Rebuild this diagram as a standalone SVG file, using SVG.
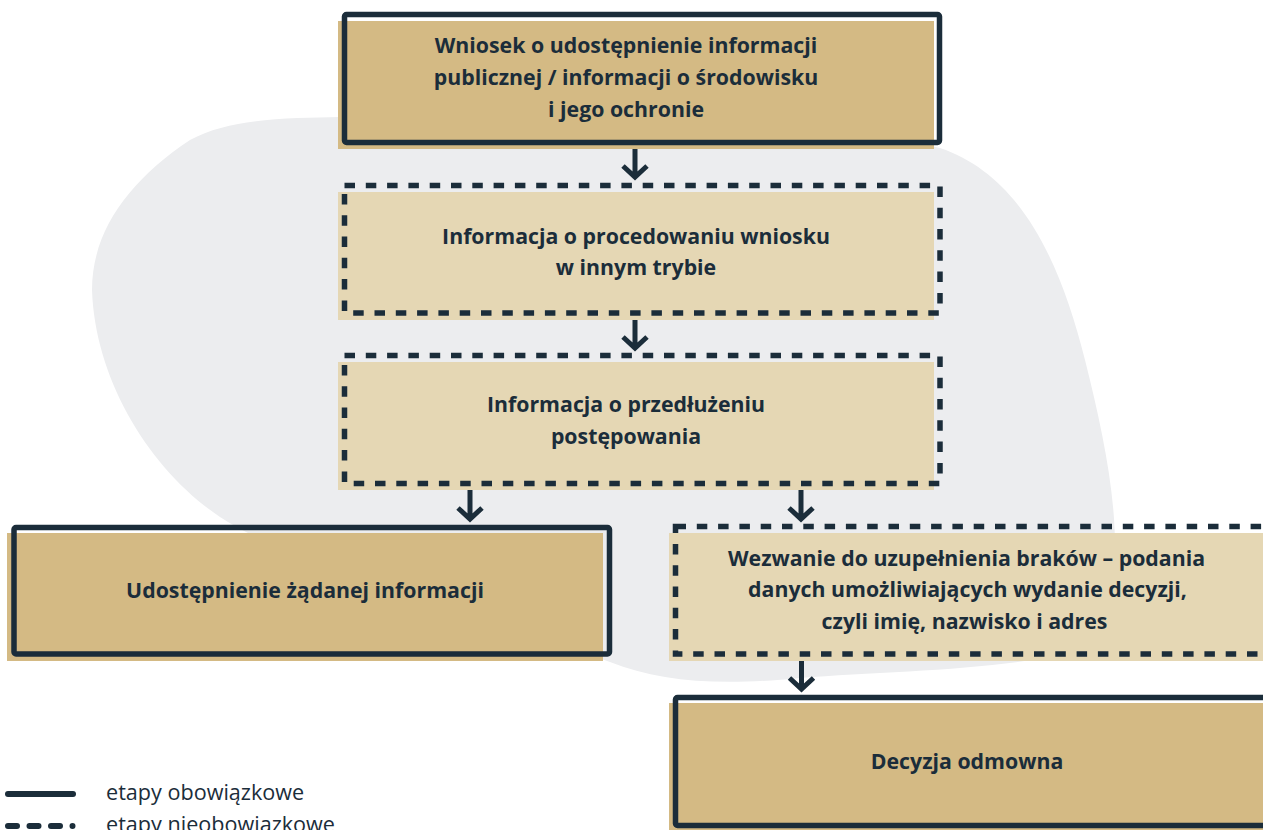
<svg xmlns="http://www.w3.org/2000/svg" width="1263" height="830" viewBox="0 0 1263 830">
<style>
.blob{fill:#ECEDEF}
.gold{fill:#D4BA84}
.beige{fill:#E5D7B4}
.solid{fill:none;stroke:#1B2D3A;stroke-width:5.5;stroke-linejoin:round}
.dash{fill:none;stroke:#1B2D3A;stroke-width:5.5;stroke-dasharray:10.5 10.8}
.lbl{font-family:'Open Sans','Liberation Sans',sans-serif;font-weight:700;font-size:21.3px;fill:#1B2D3A;text-anchor:middle}
.leg{font-family:'Open Sans','Liberation Sans',sans-serif;font-size:21.6px;fill:#1B2D3A}
.conn{fill:none;stroke:#1B2D3A;stroke-width:5;stroke-linejoin:miter}
</style>
<path class="blob" d="M 340 117 C 560 108, 820 118, 940 148 C 1020 175, 1060 260, 1085 360 C 1110 460, 1130 560, 1100 640 C 1050 670, 900 670, 800 678 C 720 686, 660 682, 610 662 C 500 620, 300 570, 220 517 C 150 470, 95 380, 92 290 C 92 230, 130 180, 190 140 C 230 118, 290 118, 340 117 Z"/>
<g id="connectors">
<path class="conn" d="M635 143 V177 M623 166 L635 177 L647 166"/>
<path class="conn" d="M635 313 V348 M623 337 L635 348 L647 337"/>
<path class="conn" d="M470 484 V519 M458 508 L470 519 L482 508"/>
<path class="conn" d="M801 484 V519 M789 508 L801 519 L813 508"/>
<path class="conn" d="M801.5 655 V689 M789.5 678 L801.5 689 L813.5 678"/>
</g>
<g id="node-wniosek">
<rect class="gold" x="338" y="21" width="596" height="128"/>
<rect class="solid" x="344.5" y="14.5" width="595" height="128" rx="2"/>
<text class="lbl" x="626" y="53">Wniosek o udostępnienie informacji</text>
<text class="lbl" x="626" y="85">publicznej / informacji o środowisku</text>
<text class="lbl" x="626" y="117">i jego ochronie</text>
</g>
<g id="node-procedowanie">
<rect class="beige" x="338" y="192" width="596" height="128"/>
<rect class="dash" x="344.5" y="185.5" width="595.5" height="127.5"/>
<text class="lbl" x="636" y="244">Informacja o procedowaniu wniosku</text>
<text class="lbl" x="636" y="275">w innym trybie</text>
</g>
<g id="node-przedluzenie">
<rect class="beige" x="338" y="362" width="596" height="128"/>
<rect class="dash" x="344.5" y="355.5" width="595.5" height="128"/>
<text class="lbl" x="626" y="412">Informacja o przedłużeniu</text>
<text class="lbl" x="626" y="444">postępowania</text>
</g>
<g id="node-udostepnienie">
<rect class="gold" x="7" y="533" width="596" height="128"/>
<rect class="solid" x="14" y="527.5" width="595.5" height="126.5" rx="2"/>
<text class="lbl" x="305" y="598">Udostępnienie żądanej informacji</text>
</g>
<g id="node-wezwanie">
<rect class="beige" x="669" y="533" width="600" height="128"/>
<rect class="dash" x="675.5" y="526.5" width="600" height="127.5"/>
<text class="lbl" x="966.5" y="566">Wezwanie do uzupełnienia braków – podania</text>
<text class="lbl" x="967.5" y="597">danych umożliwiających wydanie decyzji,</text>
<text class="lbl" x="964.5" y="629">czyli imię, nazwisko i adres</text>
</g>
<g id="node-decyzja">
<rect class="gold" x="669" y="703" width="600" height="130"/>
<rect class="solid" x="675.5" y="697.5" width="600" height="128" rx="2"/>
<text class="lbl" x="967" y="769">Decyzja odmowna</text>
</g>
<g id="legend">
<line x1="8" y1="794" x2="73" y2="794" stroke="#1B2D3A" stroke-width="6" stroke-linecap="round"/>
<text class="leg" x="106" y="800">etapy obowiązkowe</text>
<line x1="8" y1="826" x2="75" y2="826" stroke="#1B2D3A" stroke-width="6" stroke-linecap="round" stroke-dasharray="9 12.5 9 12.5 9 12.5 0 50"/>
<text class="leg" x="106" y="832">etapy nieobowiązkowe</text>
</g>
</svg>
